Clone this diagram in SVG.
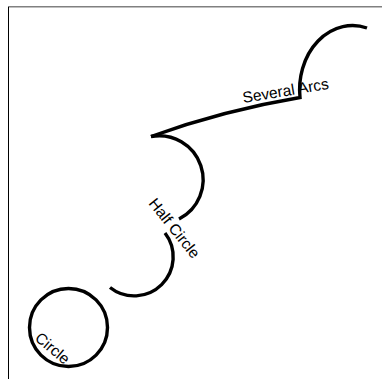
<svg xmlns="http://www.w3.org/2000/svg" width="382" height="379" viewBox="0 0 382 379">
<style>
.curve{fill:none;stroke:#000;stroke-width:3.4}
.lbl{font-family:"Liberation Sans",Arial,sans-serif;font-size:15.5px;fill:#000}
</style>
<rect width="382" height="379" fill="#fff"/>
<g id="frame">
<line x1="8" y1="6.75" x2="382" y2="6.75" stroke="#808080" stroke-width="1.5"/>
<line x1="8.5" y1="7" x2="8.5" y2="379" stroke="#000" stroke-width="1"/>
</g>
<g id="connectors">
<g id="several-arcs">
<path class="curve" d="M151,136.5 A850,850 0 0 1 300,97.5 A53,64 0 0 1 367,28"/>
<text class="lbl" transform="translate(243.5,103) rotate(-9.4)">Several Arcs</text>
</g>
<g id="half-circle">
<path class="curve" d="M151,136.5 A44,44 0 0 1 179,219"/>
<path class="curve" d="M165,233 A39,39 0 0 1 110,287.5"/>
<text class="lbl" transform="translate(148,203.5) rotate(51.5)">Half Circle</text>
</g>
</g>
<g id="circle">
<circle class="curve" cx="68.5" cy="327.5" r="39"/>
<text class="lbl" transform="translate(34,339.5) rotate(40)">Circle</text>
</g>
</svg>
